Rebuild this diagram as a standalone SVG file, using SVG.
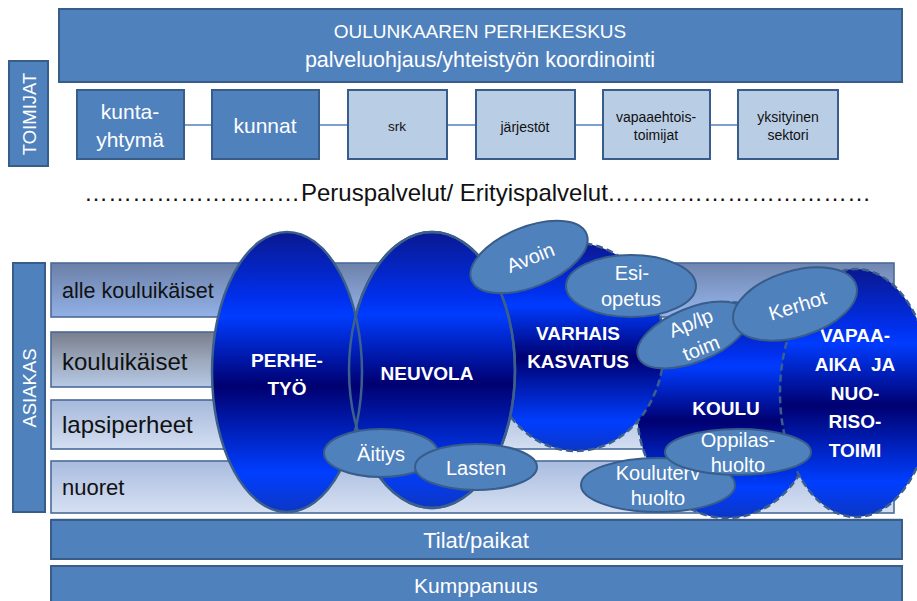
<svg xmlns="http://www.w3.org/2000/svg" width="917" height="601" viewBox="0 0 917 601">
  <defs>
    <linearGradient id="deepBlue" x1="0" y1="0" x2="0" y2="1">
      <stop offset="0" stop-color="#0a1890"/>
      <stop offset="0.24" stop-color="#0030ee"/>
      <stop offset="0.30" stop-color="#003cff"/>
      <stop offset="0.55" stop-color="#000070"/>
      <stop offset="0.86" stop-color="#003eff"/>
      <stop offset="1" stop-color="#0c36c4"/>
    </linearGradient>
    <linearGradient id="rowA" x1="0" y1="0" x2="0.15" y2="1">
      <stop offset="0" stop-color="#6b7fa6"/>
      <stop offset="1" stop-color="#93b2e8"/>
    </linearGradient>
    <linearGradient id="rowB" x1="0" y1="0" x2="0" y2="1">
      <stop offset="0" stop-color="#787e8c"/>
      <stop offset="0.5" stop-color="#9ba7bb"/>
      <stop offset="1" stop-color="#b7c9e5"/>
    </linearGradient>
    <linearGradient id="rowC" x1="0" y1="0" x2="0" y2="1">
      <stop offset="0" stop-color="#a6b9db"/>
      <stop offset="1" stop-color="#d3def1"/>
    </linearGradient>
    <linearGradient id="rowD" x1="0" y1="0" x2="0" y2="1">
      <stop offset="0" stop-color="#a9bcdf"/>
      <stop offset="1" stop-color="#d6e0f2"/>
    </linearGradient>
  </defs>
  <style>
    text { font-family: "Liberation Sans", Arial, sans-serif; }
    .box { fill: #4f81bd; stroke: #385d8a; stroke-width: 2; }
    .pale { fill: #b9cde5; stroke: #385d8a; stroke-width: 2; }
    .band { stroke: #4a6b99; stroke-width: 1.6; }
    .wt { fill: #ffffff; text-anchor: middle; }
    .dk { fill: #111111; text-anchor: middle; }
    .lbl { fill: #111111; }
    .big { fill: url(#deepBlue); stroke: #3c5f8c; stroke-width: 2.5; }
    .dash { stroke-dasharray: 7 4; }
    .bold { fill: #ffffff; font-weight: bold; font-size: 19px; text-anchor: middle; }
    .oval { fill: #4f81bd; stroke: #385d8a; stroke-width: 2; }
    .ov { fill: #ffffff; font-size: 20px; text-anchor: middle; }
    .link { stroke: #4f81bd; stroke-width: 1.5; }
  </style>

  <rect width="917" height="601" fill="#ffffff"/>

  <!-- coordinating centre banner -->
  <g id="perhekeskus">
    <rect class="box" x="59" y="9" width="843" height="73"/>
    <text class="wt" x="480" y="38" font-size="19">OULUNKAAREN PERHEKESKUS</text>
    <text class="wt" x="480" y="67" font-size="21.5">palveluohjaus/yhteistyön koordinointi</text>
  </g>

  <g id="toimijat">
    <rect class="box" x="9" y="61" width="39" height="105"/>
    <text class="wt" font-size="18.5" transform="translate(29,114) rotate(-90)" y="6.5">TOIMIJAT</text>
  </g>

  <!-- links between the actor boxes -->
  <g id="connectors">
    <line class="link" x1="184" y1="125" x2="212" y2="125"/>
    <line class="link" x1="319" y1="125" x2="348" y2="125"/>
    <line class="link" x1="447" y1="125" x2="476" y2="125"/>
    <line class="link" x1="575" y1="125" x2="603" y2="125"/>
    <line class="link" x1="710" y1="125" x2="738" y2="125"/>
  </g>

  <g id="kuntayhtyma">
    <rect class="box" x="77" y="90" width="107" height="69"/>
    <text class="wt" x="130" y="119" font-size="21">kunta-</text>
    <text class="wt" x="130" y="147" font-size="21">yhtymä</text>
  </g>
  <g id="kunnat">
    <rect class="box" x="212" y="90" width="107" height="69"/>
    <text class="wt" x="265" y="133" font-size="21">kunnat</text>
  </g>
  <g id="srk">
    <rect class="pale" x="348" y="90" width="99" height="69"/>
    <text class="dk" x="397" y="131" font-size="13.5">srk</text>
  </g>
  <g id="jarjestot">
    <rect class="pale" x="476" y="90" width="99" height="69"/>
    <text class="dk" x="525" y="132" font-size="14">järjestöt</text>
  </g>
  <g id="vapaaehtoistoimijat">
    <rect class="pale" x="603" y="90" width="107" height="69"/>
    <text class="dk" x="656" y="122" font-size="14">vapaaehtois-</text>
    <text class="dk" x="656" y="140" font-size="14">toimijat</text>
  </g>
  <g id="yksityinen">
    <rect class="pale" x="738" y="90" width="100" height="69"/>
    <text class="dk" x="788" y="122" font-size="14">yksityinen</text>
    <text class="dk" x="788" y="140" font-size="14">sektori</text>
  </g>

  <text y="201" font-size="24" fill="#111111"><tspan x="84">&#8230;&#8230;&#8230;&#8230;&#8230;&#8230;&#8230;&#8230;&#8230;</tspan><tspan x="301">Peruspalvelut/ Erityispalvelut</tspan><tspan x="607">&#8230;&#8230;&#8230;&#8230;&#8230;&#8230;&#8230;&#8230;&#8230;&#8230;&#8230;</tspan></text>

  <!-- client groups -->
  <g id="asiakas">
    <rect class="box" x="13" y="263" width="32" height="249"/>
    <text class="wt" font-size="18.5" transform="translate(29,388) rotate(-90)" y="6.5">ASIAKAS</text>
  </g>
  <g id="alle-kouluikaiset">
    <rect class="band" x="51" y="263" width="843" height="54" fill="url(#rowA)"/>
    <text class="lbl" x="62" y="298" font-size="21.5">alle kouluikäiset</text>
  </g>
  <g id="kouluikaiset">
    <rect class="band" x="51" y="332" width="843" height="55" fill="url(#rowB)"/>
    <text class="lbl" x="62" y="370" font-size="24">kouluikäiset</text>
  </g>
  <g id="lapsiperheet">
    <rect class="band" x="51" y="400" width="843" height="49" fill="url(#rowC)"/>
    <text class="lbl" x="62" y="433" font-size="24">lapsiperheet</text>
  </g>
  <g id="nuoret">
    <rect class="band" x="51" y="461" width="843" height="52" fill="url(#rowD)"/>
    <text class="lbl" x="62" y="495" font-size="22">nuoret</text>
  </g>
  <line x1="51" y1="519" x2="902" y2="519" stroke="#c9ced6" stroke-width="1.5"/>

  <!-- service ellipses -->
  <g id="koulu">
    <ellipse class="big dash" cx="727" cy="410" rx="90" ry="108"/>
  </g>
  <g id="vapaa-aika">
    <ellipse class="big dash" cx="856" cy="393" rx="76" ry="124"/>
    <text class="bold" x="855" y="342">VAPAA-</text>
    <text class="bold" x="855" y="371" style="white-space:pre">AIKA  JA</text>
    <text class="bold" x="855" y="400">NUO-</text>
    <text class="bold" x="855" y="428">RISO-</text>
    <text class="bold" x="855" y="457">TOIMI</text>
  </g>
  <g id="varhaiskasvatus">
    <ellipse class="big dash" cx="576" cy="347" rx="88" ry="104"/>
    <text class="bold" x="578" y="340">VARHAIS</text>
    <text class="bold" x="578" y="368">KASVATUS</text>
  </g>
  <g id="neuvola">
    <ellipse class="big" cx="432" cy="370" rx="83" ry="138"/>
  </g>
  <g id="perhetyo">
    <ellipse class="big" cx="287" cy="372" rx="75" ry="140"/>
    <ellipse cx="432" cy="370" rx="83" ry="138" fill="none" stroke="#3c5f8c" stroke-width="2.5"/>
    <text class="bold" x="287" y="367">PERHE-</text>
    <text class="bold" x="287" y="395">TYÖ</text>
  </g>
  <text class="bold" x="427" y="380">NEUVOLA</text>
  <text class="bold" x="726" y="415">KOULU</text>

  <!-- sub-services -->
  <g id="avoin" transform="translate(529,257) rotate(-22)">
    <ellipse class="oval" rx="62" ry="30"/>
    <text class="ov" x="1" y="8" font-size="21">Avoin</text>
  </g>
  <g id="esiopetus">
    <ellipse class="oval" cx="631" cy="286" rx="65" ry="31"/>
    <text class="ov" x="632" y="280">Esi-</text>
    <text class="ov" x="631" y="306">opetus</text>
  </g>
  <g id="aplp" transform="translate(693,335) rotate(-22)">
    <ellipse class="oval" rx="59" ry="27"/>
    <text class="ov" x="2.5" y="-5" font-size="21">Ap/lp</text>
    <text class="ov" x="2.5" y="22" font-size="21">toim</text>
  </g>
  <g id="kerhot" transform="translate(795,304) rotate(-17)">
    <ellipse class="oval" rx="64" ry="33"/>
    <text class="ov" x="2" y="9" font-size="21">Kerhot</text>
  </g>
  <g id="aitiys">
    <ellipse class="oval" cx="381" cy="453" rx="57" ry="24"/>
    <text class="ov" x="381" y="461">Äitiys</text>
  </g>
  <g id="lasten">
    <ellipse class="oval" cx="476" cy="467" rx="61" ry="23"/>
    <text class="ov" x="476" y="475">Lasten</text>
  </g>
  <g id="kouluterveydenhuolto">
    <ellipse class="oval" cx="658" cy="485" rx="77" ry="27"/>
    <text class="ov" x="658" y="480" font-size="19">Kouluterv</text>
    <text class="ov" x="658" y="505" font-size="19">huolto</text>
  </g>
  <g id="oppilashuolto">
    <ellipse class="oval" cx="738" cy="452" rx="73" ry="23"/>
    <text class="ov" x="738" y="447" font-size="19">Oppilas-</text>
    <text class="ov" x="738" y="472" font-size="19">huolto</text>
  </g>

  <!-- shared foundations -->
  <g id="tilat">
    <rect class="box" x="51" y="520" width="851" height="39"/>
    <text class="wt" x="476" y="548" font-size="22">Tilat/paikat</text>
  </g>
  <g id="kumppanuus">
    <rect class="box" x="51" y="566" width="851" height="40"/>
    <text class="wt" x="476" y="593" font-size="21">Kumppanuus</text>
  </g>
</svg>
